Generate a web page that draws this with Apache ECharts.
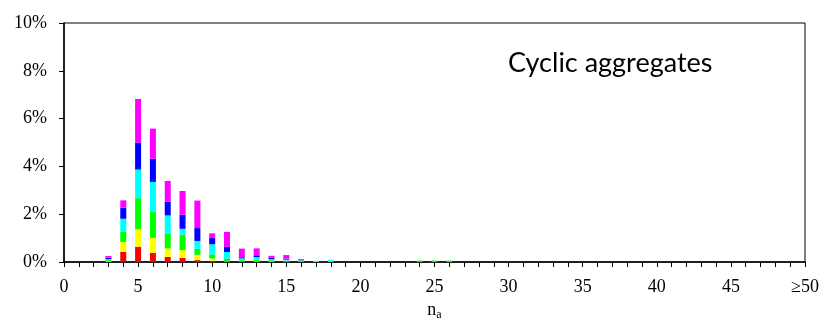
<!DOCTYPE html>
<html>
<head>
<meta charset="utf-8">
<script src="https://cdn.jsdelivr.net/npm/echarts@6/dist/echarts.min.js"></script>
<style>
  html, body { margin: 0; padding: 0; background: #fff; }
  #chart { width: 822px; height: 324px; }
</style>
</head>
<body>
<div id="chart"></div>
<script>
// ring size n_a and stacked fractions (%) per colour group
var na      = [3,    4,    5,    6,    7,    8,    9,    10,   11,   12,   13,   14,   15,   16,   17,   18,   24,   25,   26];
var red     = [0.01, 0.43, 0.64, 0.38, 0.21, 0.17, 0.08, 0.05, 0.00, 0.00, 0.00, 0.01, 0.00, 0.00, 0,    0,    0,    0,    0];
var yellow  = [0.03, 0.41, 0.73, 0.63, 0.36, 0.33, 0.22, 0.10, 0.02, 0.01, 0.03, 0.03, 0.01, 0.00, 0,    0,    0,    0,    0];
var green   = [0.04, 0.43, 1.30, 1.10, 0.63, 0.64, 0.25, 0.17, 0.12, 0.07, 0.08, 0.04, 0.05, 0.06, 0,    0,    0.06, 0.06, 0.06];
var cyan    = [0.04, 0.54, 1.20, 1.24, 0.75, 0.25, 0.33, 0.42, 0.28, 0.07, 0.10, 0.04, 0.04, 0.01, 0.05, 0.09, 0,    0,    0];
var blue    = [0.06, 0.46, 1.13, 0.97, 0.57, 0.59, 0.54, 0.26, 0.21, 0.05, 0.07, 0.07, 0.04, 0.01, 0,    0,    0,    0,    0];
var magenta = [0.07, 0.31, 1.82, 1.26, 0.87, 0.99, 1.15, 0.20, 0.63, 0.36, 0.29, 0.07, 0.15, 0.04, 0,    0,    0,    0,    0];

// x axis runs 0..50, the last one meaning >=50
var categories = [];
for (var c = 0; c <= 50; c++) categories.push(c);

var groups = [
  { name: 'red',     values: red,     color: '#ff0000' },
  { name: 'yellow',  values: yellow,  color: '#ffff00' },
  { name: 'green',   values: green,   color: '#00ff00' },
  { name: 'cyan',    values: cyan,    color: '#00ffff' },
  { name: 'blue',    values: blue,    color: '#0000ff' },
  { name: 'magenta', values: magenta, color: '#ff00ff' }
];

var serif = 'Liberation Serif';

var series = groups.map(function (g) {
  var row = categories.map(function (x) {
    var i = na.indexOf(x);
    return i < 0 ? 0 : g.values[i];
  });
  return {
    name: g.name,
    type: 'bar',
    stack: 'all',
    barWidth: 6,
    itemStyle: { color: g.color },
    data: row
  };
});

var chart = echarts.init(document.getElementById('chart'));
chart.setOption({
  animation: false,
  title: {
    text: 'Cyclic aggregates',
    left: 503,
    top: 45,
    textStyle: { fontFamily: 'Lato', fontSize: 27, fontWeight: 'normal', color: '#000' }
  },
  grid: {
    left: 64, right: 17, top: 23, bottom: 62,
    outerBoundsMode: 'none',
    containLabel: false,
    show: true, borderColor: '#000', borderWidth: 1
  },
  xAxis: {
    type: 'category',
    data: categories,
    boundaryGap: false,
    name: 'n{sub|a}',
    nameLocation: 'middle',
    nameGap: 37,
    nameTextStyle: {
      fontFamily: serif, fontSize: 18, color: '#000',
      rich: { sub: { fontFamily: serif, fontSize: 12, color: '#000', verticalAlign: 'bottom', padding: [10, 0, 0, 0] } }
    },
    axisLine: { lineStyle: { color: '#000', width: 1.5 } },
    axisTick: { interval: 0, length: 5, lineStyle: { color: '#000' } },
    splitLine: { show: false },
    axisLabel: {
      interval: 0,
      margin: 16,
      fontFamily: serif, fontSize: 18, color: '#000',
      formatter: function (v) {
        var n = Number(v);
        if (n % 5 !== 0) return '';
        return n === 50 ? '≥50' : String(n);
      }
    }
  },
  yAxis: {
    type: 'value',
    min: 0, max: 10, interval: 2,
    axisLine: { show: true, lineStyle: { color: '#000', width: 1.5 } },
    axisTick: { show: true, length: 5, lineStyle: { color: '#000' } },
    splitLine: { show: false },
    axisLabel: {
      margin: 17,
      fontFamily: serif, fontSize: 18, color: '#000',
      formatter: '{value}%'
    }
  },
  series: series
});
</script>
</body>
</html>
